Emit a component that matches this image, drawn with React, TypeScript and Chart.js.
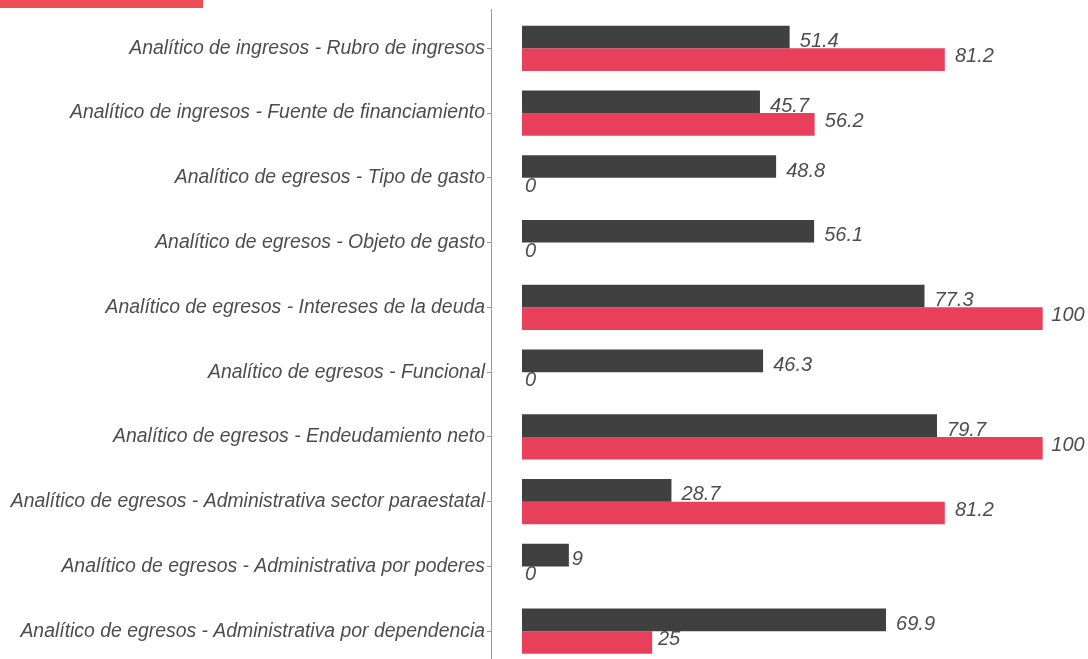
import { useEffect, useRef } from "react";
import { Chart, registerables } from "chart.js";

Chart.register(...registerables);

const categories = [
  "Analítico de ingresos - Rubro de ingresos",
  "Analítico de ingresos - Fuente de financiamiento",
  "Analítico de egresos - Tipo de gasto",
  "Analítico de egresos - Objeto de gasto",
  "Analítico de egresos - Intereses de la deuda",
  "Analítico de egresos - Funcional",
  "Analítico de egresos - Endeudamiento neto",
  "Analítico de egresos - Administrativa sector paraestatal",
  "Analítico de egresos - Administrativa por poderes",
  "Analítico de egresos - Administrativa por dependencia",
];
const seriesDark = [51.4, 45.7, 48.8, 56.1, 77.3, 46.3, 79.7, 28.7, 9, 69.9];
const seriesRed = [81.2, 56.2, 0, 0, 100, 0, 100, 81.2, 0, 25];

const DARK = "#404040";
const RED = "#E8405A";
const TEXT = "#4D4D4D";
const FONT_FAMILY = '"Liberation Sans", Arial, sans-serif';

const labelPlugin = {
  id: "barLabels",
  afterDatasetsDraw(chart: any) {
    const ctx = chart.ctx;
    ctx.save();
    ctx.font = `italic 20px ${FONT_FAMILY}`;
    ctx.fillStyle = TEXT;
    ctx.textAlign = "left";
    ctx.textBaseline = "alphabetic";
    chart.data.datasets.forEach((ds: any, di: number) => {
      const meta = chart.getDatasetMeta(di);
      meta.data.forEach((bar: any, i: number) => {
        const v = ds.data[i].x;
        const text = String(v);
        const w = ctx.measureText(text).width;
        const x = bar.x + w * 0.26;
        const y = di === 0 ? bar.y + bar.height * 0.44 : bar.y + bar.height * 0.12;
        ctx.fillText(text, x, y);
      });
    });
    ctx.restore();
  },
};

export default function App() {
  const ref = useRef<HTMLCanvasElement | null>(null);

  useEffect(() => {
    if (!ref.current) return;
    const chart = new Chart(ref.current, {
      type: "bar",
      data: {
        datasets: [
          {
            label: "A",
            data: seriesDark.map((v, i) => ({ x: v, y: i + 1 })),
            backgroundColor: DARK,
            borderWidth: 0,
            categoryPercentage: 0.7,
            barPercentage: 1.0,
          },
          {
            label: "B",
            data: seriesRed.map((v, i) => ({ x: v, y: i + 1 })),
            backgroundColor: RED,
            borderWidth: 0,
            categoryPercentage: 0.7,
            barPercentage: 1.0,
          },
        ],
      },
      options: {
        indexAxis: "y",
        animation: false,
        responsive: false,
        devicePixelRatio: 1,
        layout: { padding: { top: 9.5, right: 20, bottom: 0, left: 0 } },
        plugins: {
          legend: { display: false },
          tooltip: { enabled: false },
        },
        scales: {
          x: {
            type: "linear",
            display: false,
            min: -5.955,
            max: 104.86,
            grid: { display: false },
          },
          y: {
            type: "linear",
            reverse: true,
            offset: false,
            min: 0.4,
            max: 10.6,
            afterFit: (scale: any) => {
              scale.width = 491;
              scale.paddingTop = 0;
              scale.paddingBottom = 0;
            },
            ticks: {
              stepSize: 1,
              includeBounds: false,
              autoSkip: false,
              padding: 2,
              color: TEXT,
              font: { family: FONT_FAMILY, size: 19.4, style: "italic" },
              callback: (value: any) => {
                const idx = Math.round(Number(value)) - 1;
                return categories[idx] ?? "";
              },
            },
            grid: {
              offset: false,
              drawOnChartArea: false,
              tickLength: 4,
              color: "#9a9a9a",
            },
            border: { display: true, color: "#9a9a9a", width: 1 },
          },
        },
      },
      plugins: [labelPlugin],
    } as any);
    return () => chart.destroy();
  }, []);

  return (
    <div
      style={{
        position: "fixed",
        top: 0,
        left: 0,
        width: 1088,
        height: 659,
        overflow: "hidden",
        background: "#fff",
      }}
    >
      <div
        style={{
          position: "absolute",
          top: 0,
          left: 0,
          width: 203,
          height: 8,
          background: "#EE4D58",
        }}
      />
      <canvas ref={ref} width={1088} height={670} style={{ display: "block" }} />
    </div>
  );
}
